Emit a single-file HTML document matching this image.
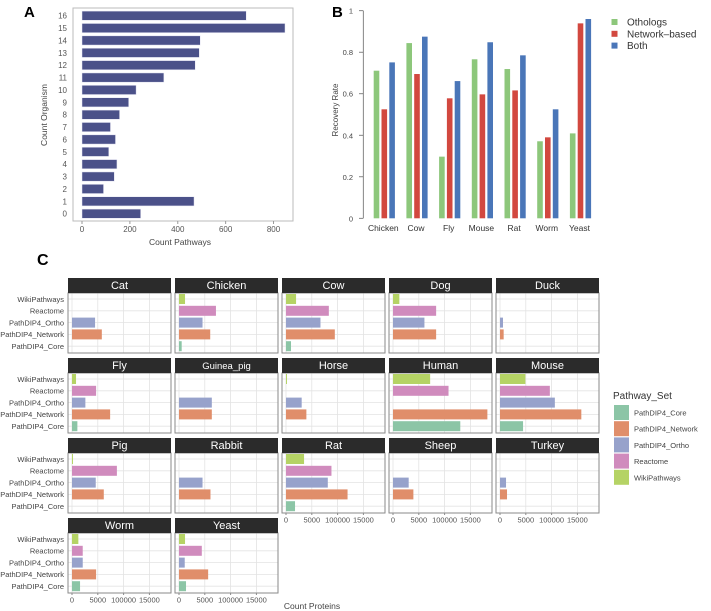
<!DOCTYPE html>
<html><head><meta charset="utf-8">
<style>
body{margin:0;background:#fff;}
svg{display:block;font-family:"Liberation Sans",sans-serif;}
</style></head>
<body>
<svg id="fig" width="711" height="611" viewBox="0 0 711 611" xmlns="http://www.w3.org/2000/svg">
<g id="pa"></g>
<g id="pb"></g>
<g id="pc"></g>
</svg>
<script>
// Panel A data
const aCategories = [0,1,2,3,4,5,6,7,8,9,10,11,12,13,14,15,16];
const aValues = [245,468,90,135,146,112,140,119,157,195,226,342,473,490,494,848,686];
const aTicks = [0,200,400,600,800];
// Panel B data
const bCategories = ["Chicken","Cow","Fly","Mouse","Rat","Worm","Yeast"];
const bOrtho = [0.711,0.844,0.297,0.766,0.719,0.371,0.409];
const bNetwork = [0.525,0.695,0.578,0.597,0.616,0.39,0.939];
const bBoth = [0.751,0.875,0.661,0.848,0.785,0.525,0.96];
const bTicks = [0,0.2,0.4,0.6,0.8,1];
const bTickLabels = ["0","0.2","0.4","0.6","0.8","1"];
const bSeriesNames = ["Othologs","Network\u2013based","Both"];
// Panel C data
const cOrganisms = ["Cat","Chicken","Cow","Dog","Duck","Fly","Guinea_pig","Horse","Human","Mouse","Pig","Rabbit","Rat","Sheep","Turkey","Worm","Yeast"];
const cSets = ["PathDIP4_Core","PathDIP4_Network","PathDIP4_Ortho","Reactome","WikiPathways"];
const cCore = [0,520,970,0,0,1040,0,0,13040,4470,0,0,1750,0,0,1560,1360];
const cNetwork = [5780,6050,9460,8360,710,7390,6360,3950,18290,15760,6160,6100,11930,3950,1360,4670,5650];
const cOrtho = [4470,4560,6680,6090,580,2590,6360,3040,0,10630,4600,4560,8100,3040,1170,2080,1110];
const cReactome = [0,7160,8300,8360,0,4670,0,0,10760,9660,8700,0,8810,0,0,2080,4420];
const cWiki = [0,1170,1950,1230,0,780,0,190,7200,4920,190,0,3500,0,0,1230,1170];
const cTicks = [0,5000,10000,15000];
const cTickLabels = ["0","5000","100000","15000"];

const NS="http://www.w3.org/2000/svg";
function mk(parent,tag,attrs,text){
  const e=document.createElementNS(NS,tag);
  for(const k in attrs) e.setAttribute(k,attrs[k]);
  if(text!==undefined) e.textContent=text;
  parent.appendChild(e); return e;
}

// ---------- Panel A ----------
(function(){
  const g=document.getElementById('pa');
  const xA=v=>82+v*0.2394;
  const yA=i=>213.7-i*12.375;
  const t=mk(g,'text',{x:24,y:17,'font-size':15,'font-weight':'bold',fill:'#000'},'A');
   
  const fr=mk(g,'rect',{x:73,y:8,width:220,height:213,fill:'none',stroke:'#bbb','stroke-width':1});
   
  aCategories.forEach((c,i)=>{
    const r=mk(g,'rect',{x:xA(0),y:yA(c)-4.6,width:xA(aValues[i])-xA(0),height:9.2,fill:'#4b5189',stroke:'#e8e8f4','stroke-width':0.5});
     
    const l=mk(g,'text',{x:67,y:yA(c)+3,'font-size':8,fill:'#555','text-anchor':'end'},String(c));
     
  });
  aTicks.forEach(v=>{
    mk(g,'line',{x1:xA(v),x2:xA(v),y1:221,y2:224,stroke:'#999'});
    const l=mk(g,'text',{x:xA(v),y:232,'font-size':8,fill:'#555','text-anchor':'middle'},String(v));
     
  });
  const xt=mk(g,'text',{x:180,y:245,'font-size':8.5,fill:'#444','text-anchor':'middle'},'Count Pathways');
   
  const yt=mk(g,'text',{x:0,y:0,'font-size':8.5,fill:'#444','text-anchor':'middle',transform:'translate(47,115) rotate(-90)'},'Count Organism');
   
})();

// ---------- Panel B ----------
(function(){
  const g=document.getElementById('pb');
  const yB=v=>218.3-v*207.6;
  const xB=i=>384.3+i*32.7;
  const cols=['#8dc77b','#d2483f','#4a76b8'];
  const series=[bOrtho,bNetwork,bBoth];
  const t=mk(g,'text',{x:332,y:17,'font-size':15,'font-weight':'bold',fill:'#000'},'B');
   
  mk(g,'line',{x1:363.3,x2:363.3,y1:yB(1),y2:yB(0),stroke:'#666','stroke-width':0.8});
  bTicks.forEach((v,i)=>{
    mk(g,'line',{x1:359,x2:363.3,y1:yB(v),y2:yB(v),stroke:'#666','stroke-width':0.8});
    const l=mk(g,'text',{x:353,y:yB(v)+3,'font-size':7.5,fill:'#444','text-anchor':'end'},bTickLabels[i]);
     
  });
  bCategories.forEach((c,i)=>{
    series.forEach((s,j)=>{
      const x=xB(i)+(j-1)*7.8;
      const r=mk(g,'rect',{x:x-2.8,y:yB(s[i]),width:5.6,height:yB(0)-yB(s[i]),fill:cols[j]});
       
    });
    const l=mk(g,'text',{x:xB(i)-1,y:231,'font-size':8.5,fill:'#333','text-anchor':'middle'},c);
     
  });
  const yt=mk(g,'text',{x:0,y:0,'font-size':8,fill:'#444','text-anchor':'middle',transform:'translate(338,110) rotate(-90)'},'Recovery Rate');
   
  bSeriesNames.forEach((n,j)=>{
    const y=22+j*11.8;
    const k=mk(g,'rect',{x:611.5,y:y-3,width:6,height:6,fill:cols[j]});
     
    const l=mk(g,'text',{x:627,y:y+3.5,'font-size':10,fill:'#333'},n);
     
  });
})();

// ---------- Panel C ----------
(function(){
  const g=document.getElementById('pc');
  const colors={PathDIP4_Core:'#8cc5a6',PathDIP4_Network:'#e08e6a',PathDIP4_Ortho:'#97a2cb',Reactome:'#d08bbd',WikiPathways:'#b5d365'};
  const vals={PathDIP4_Core:cCore,PathDIP4_Network:cNetwork,PathDIP4_Ortho:cOrtho,Reactome:cReactome,WikiPathways:cWiki};
  const t=mk(g,'text',{x:37,y:265,'font-size':16,'font-weight':'bold',fill:'#000'},'C');
   
  const colX=[68,175,282,389,496], rowY=[278,358,438,518], PW=103, SH=15, PH=60;
  const catY=s=>{const order=["WikiPathways","Reactome","PathDIP4_Ortho","PathDIP4_Network","PathDIP4_Core"];return 21+order.indexOf(s)*11.8;};
  const bottomPanels={12:1,13:1,14:1,15:1,16:1};
  cOrganisms.forEach((org,i)=>{
    const col=i%5,row=Math.floor(i/5);
    const x0=colX[col],y0=rowY[row];
    const xC=v=>x0+4+v/5000*25.8;
    const pg=mk(g,'g',{});
     
    mk(pg,'rect',{x:x0,y:y0+SH,width:PW,height:PH,fill:'#fff'});
    cTicks.forEach(v=>mk(pg,'line',{x1:xC(v),x2:xC(v),y1:y0+SH,y2:y0+SH+PH,stroke:'#e3e3e3','stroke-width':0.8}));
    cSets.forEach(s=>mk(pg,'line',{x1:x0,x2:x0+PW,y1:y0+catY(s),y2:y0+catY(s),stroke:'#e3e3e3','stroke-width':0.8}));
    cSets.forEach(s=>{
      const v=vals[s][i]; if(!v) return;
      const r=mk(pg,'rect',{x:xC(0),y:y0+catY(s)-5,width:xC(v)-xC(0),height:10,fill:colors[s]});
       
    });
    mk(pg,'rect',{x:x0,y:y0+SH,width:PW,height:PH,fill:'none',stroke:'#8a8a8a','stroke-width':1});
    const st=mk(pg,'rect',{x:x0,y:y0,width:PW,height:SH,fill:'#2b2b2b'});
     
    const lt=mk(pg,'text',{x:x0+PW/2,y:y0+11,'font-size':org==='Guinea_pig'?9.5:11,fill:'#fff','text-anchor':'middle'},org);
     
    if(col===0){
      cSets.forEach(s=>{
        const l=mk(g,'text',{x:64,y:y0+catY(s)+2.8,'font-size':7.5,fill:'#444','text-anchor':'end'},s);
         
      });
    }
    if(bottomPanels[i]){
      cTicks.forEach((v,k)=>{
        mk(pg,'line',{x1:xC(v),x2:xC(v),y1:y0+SH+PH,y2:y0+SH+PH+2,stroke:'#8a8a8a'});
        const l=mk(g,'text',{x:xC(v),y:y0+SH+PH+9.5,'font-size':7.5,fill:'#555','text-anchor':'middle'},cTickLabels[k]);
         
      });
    }
  });
  const xt=mk(g,'text',{x:312,y:609,'font-size':8.5,fill:'#444','text-anchor':'middle'},'Count Proteins');
   
  const lt=mk(g,'text',{x:613,y:399,'font-size':10,fill:'#333'},'Pathway_Set');
   
  cSets.forEach((s,k)=>{
    const y=405+k*16.2;
    const r=mk(g,'rect',{x:614,y:y,width:15,height:15,fill:colors[s]});
     
    const l=mk(g,'text',{x:634,y:y+10.5,'font-size':7.5,fill:'#444'},s);
     
  });
})();
</script>
</body></html>
